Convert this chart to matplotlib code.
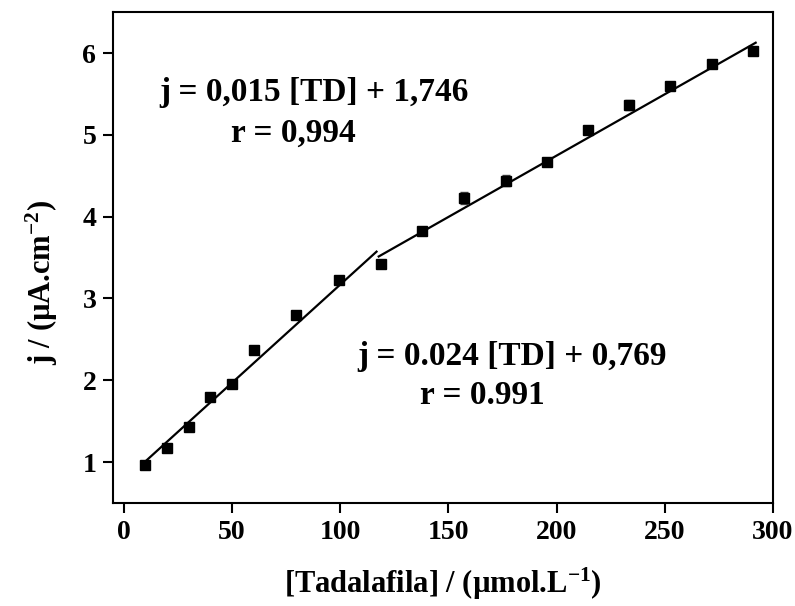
import matplotlib
matplotlib.use("Agg")
import matplotlib.pyplot as plt
import numpy as np

# Data
conc = [10, 20, 30, 40, 50, 60, 79.5, 99.4, 119, 138, 157, 176.6, 195.6, 214.5, 233.5, 252.4, 271.8, 290.8]
j = [0.96, 1.17, 1.43, 1.80, 1.96, 2.37, 2.80, 3.22, 3.42, 3.83, 4.23, 4.44, 4.67, 5.06, 5.36, 5.60, 5.86, 6.02]
j_err = [0.02, 0.02, 0.02, 0.02, 0.02, 0.02, 0.02, 0.02, 0.02, 0.03, 0.07, 0.07, 0.03, 0.02, 0.06, 0.02, 0.02, 0.02]

# Linear fits: (slope, intercept, x_start, x_end)
fit1 = (0.024, 0.769, 9.0, 116.8)
fit2 = (0.015, 1.746, 117.8, 292.0)

xticks = [0, 50, 100, 150, 200, 250, 300]
yticks = [1, 2, 3, 4, 5, 6]

FAM = ['Liberation Serif', 'DejaVu Serif']
plt.rcParams['font.family'] = FAM
plt.rcParams['mathtext.fontset'] = 'custom'
plt.rcParams['mathtext.rm'] = 'Liberation Serif:bold'
plt.rcParams['mathtext.bf'] = 'Liberation Serif:bold'
plt.rcParams['mathtext.it'] = 'Liberation Serif:bold'

fig = plt.figure(figsize=(7.95, 6.06), dpi=100)
ax = fig.add_axes([0.1421, 0.170, 0.8302, 0.810])

ax.errorbar(conc, j, yerr=j_err, fmt='s', color='black', ms=7.5,
            ecolor='#444444', elinewidth=1, capsize=3, capthick=1, zorder=3)

for s, b, x0, x1 in (fit1, fit2):
    xs = np.array([x0, x1])
    ax.plot(xs, s * xs + b, color='black', lw=1.6, zorder=2)

ax.set_xlim(-5, 300)
ax.set_ylim(0.5, 6.5)
ax.set_xticks(xticks)
ax.set_yticks(yticks)
ax.tick_params(axis='both', which='major', direction='out', length=7, width=1.5,
               labelsize=20, pad=5)
for lab in ax.get_xticklabels() + ax.get_yticklabels():
    lab.set_fontweight('bold')
for sp in ax.spines.values():
    sp.set_linewidth(1.5)

ax.set_xlabel(r'[Tadalafila] / (µmol.L$^{\mathbf{-1}}$)', fontsize=22,
              fontweight='bold', family=FAM)
ax.set_ylabel(r'j / (µA.cm$^{\mathbf{-2}}$)', fontsize=22,
              fontweight='bold', family=FAM)
ax.xaxis.set_label_coords(0.5, -0.128)
ax.yaxis.set_label_coords(-0.080, 0.45)

kw = dict(transform=ax.transAxes, ha='center', va='center', fontsize=24, fontweight='bold')
ax.text(0.305, 0.837, 'j = 0,015 [TD] + 1,746', **kw)
ax.text(0.273, 0.754, 'r = 0,994', **kw)
ax.text(0.605, 0.299, 'j = 0.024 [TD] + 0,769', **kw)
ax.text(0.560, 0.218, 'r = 0.991', **kw)

fig.savefig('out.png', dpi=100)
